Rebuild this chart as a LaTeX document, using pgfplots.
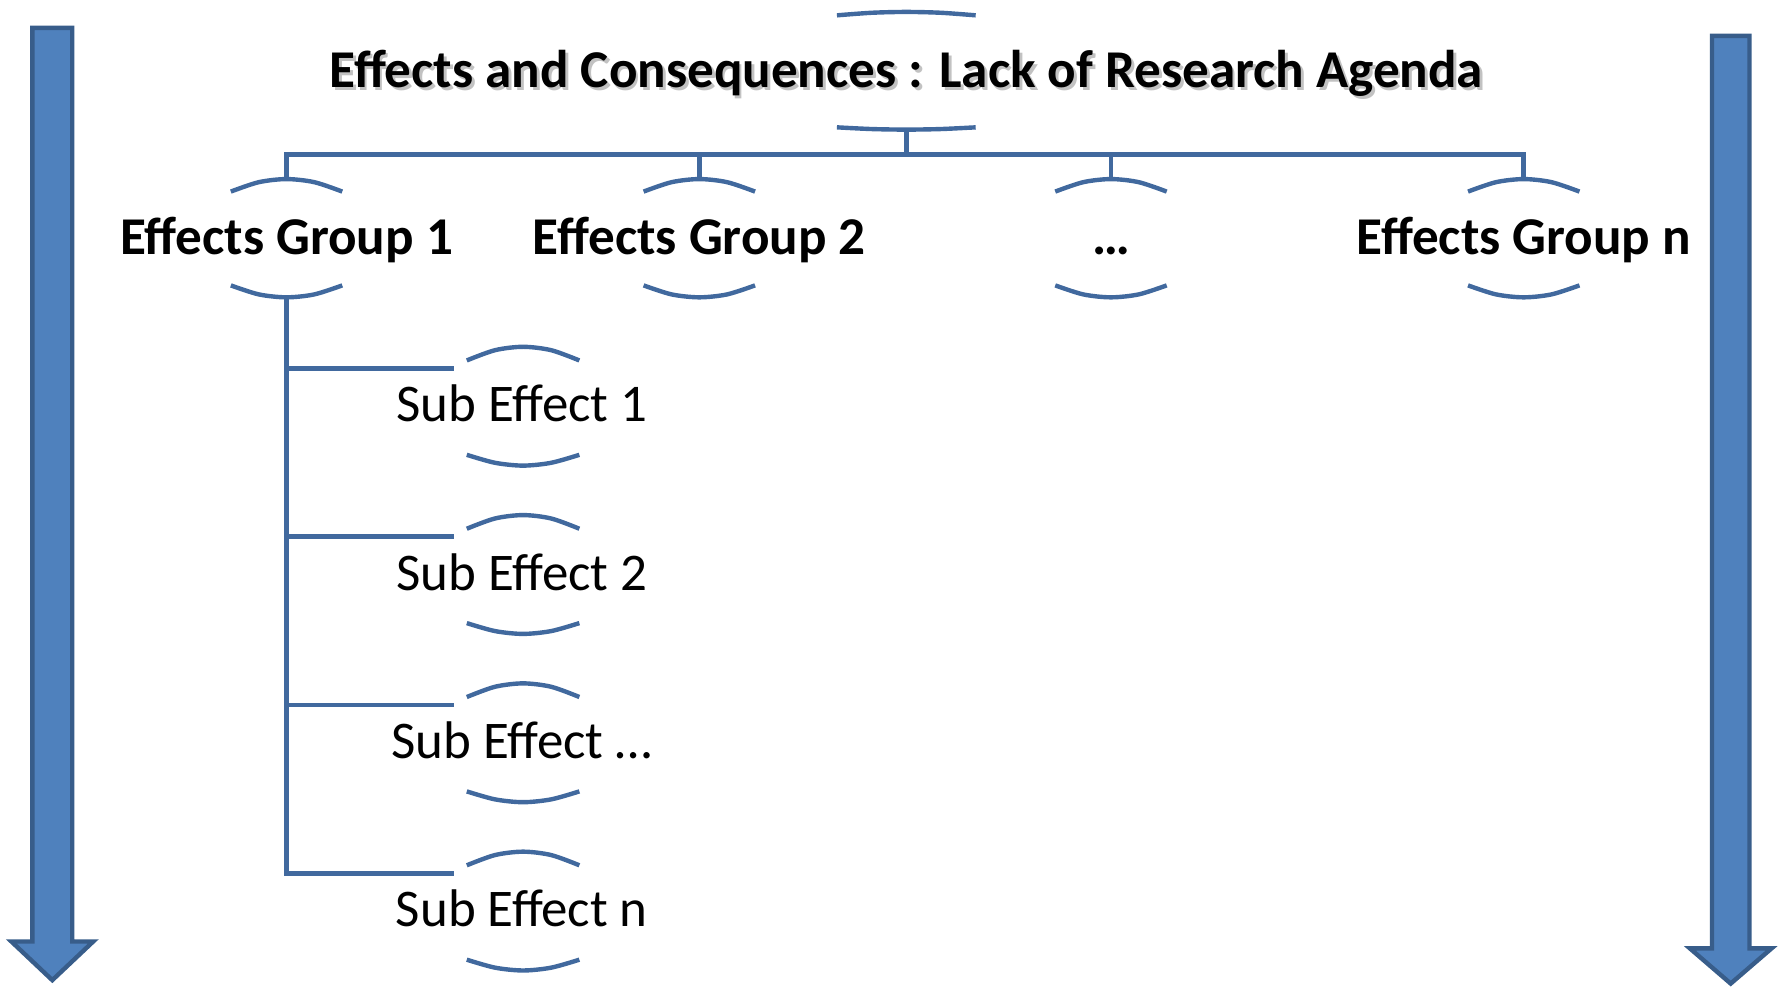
\documentclass[border=0pt]{standalone}
\usepackage{pgfplots}
\pgfplotsset{compat=1.18}
\usepackage{fontspec}
\setmainfont{Carlito}
\definecolor{linec}{RGB}{65,105,158}
\definecolor{arrfill}{RGB}{79,129,189}
\definecolor{arrdraw}{RGB}{56,93,138}
\begin{document}
\begin{tikzpicture}
\begin{axis}[hide axis, scale only axis, width=15.68cm, height=8.70cm,
  xmin=0, xmax=1568, ymin=0, ymax=870, y dir=reverse, clip=false]
\path (axis cs:0,0) rectangle (axis cs:1568,870);
% arrows
\addplot[fill=arrfill, draw=arrdraw, line width=1.1pt, line join=miter] coordinates {
 (28.5,24.5) (63.5,24.5) (63.5,828) (82,828) (46,862) (10,828) (28.5,828) (28.5,24.5)} -- cycle;
\addplot[fill=arrfill, draw=arrdraw, line width=1.1pt, line join=miter] coordinates {
 (1505.5,31.5) (1538.5,31.5) (1538.5,834) (1558,834) (1522,865) (1486,834) (1505.5,834) (1505.5,31.5)} -- cycle;
% connector lines
\addplot[linec, line width=1.2pt] coordinates {(797,114) (797,136)};
\addplot[linec, line width=1.2pt] coordinates {(252,158) (252,136) (1340,136) (1340,158)};
\addplot[linec, line width=1.2pt] coordinates {(615,136) (615,158)};
\addplot[linec, line width=1.2pt] coordinates {(977,136) (977,158)};
\addplot[linec, line width=1.2pt] coordinates {(252,261) (252,768) (399,768)};
\addplot[linec, line width=1.2pt] coordinates {(252,324) (399,324)};
\addplot[linec, line width=1.2pt] coordinates {(252,472) (399,472)};
\addplot[linec, line width=1.2pt] coordinates {(252,620) (399,620)};
% title arcs
\addplot[linec, line width=1.1pt, smooth] coordinates {(736,13.5) (766.5,11.25) (797,10.5) (827.5,11.25) (858,13.5)};
\addplot[linec, line width=1.1pt, smooth] coordinates {(736,112) (766.5,113.5) (797,114) (827.5,113.5) (858,112)};
% group arcs (top)
\addplot[linec, line width=1.1pt, smooth] coordinates {(203,168.5) (227.5,160.25) (252,157.5) (276.5,160.25) (301,168.5)};
\addplot[linec, line width=1.1pt, smooth] coordinates {(566,168.5) (590.5,160.25) (615,157.5) (639.5,160.25) (664,168.5)};
\addplot[linec, line width=1.1pt, smooth] coordinates {(928,168.5) (952.5,160.25) (977,157.5) (1001.5,160.25) (1026,168.5)};
\addplot[linec, line width=1.1pt, smooth] coordinates {(1291,168.5) (1315.5,160.25) (1340,157.5) (1364.5,160.25) (1389,168.5)};
% group arcs (bottom)
\addplot[linec, line width=1.1pt, smooth] coordinates {(203,251) (227.5,258.9) (252,261.5) (276.5,258.9) (301,251)};
\addplot[linec, line width=1.1pt, smooth] coordinates {(566,251) (590.5,258.9) (615,261.5) (639.5,258.9) (664,251)};
\addplot[linec, line width=1.1pt, smooth] coordinates {(928,251) (952.5,258.9) (977,261.5) (1001.5,258.9) (1026,251)};
\addplot[linec, line width=1.1pt, smooth] coordinates {(1291,251) (1315.5,258.9) (1340,261.5) (1364.5,258.9) (1389,251)};
% sub arcs (top)
\addplot[linec, line width=1.1pt, smooth] coordinates {(410.5,317) (435.25,308) (460,305) (484.75,308) (509.5,317)};
\addplot[linec, line width=1.1pt, smooth] coordinates {(410.5,465) (435.25,456) (460,453) (484.75,456) (509.5,465)};
\addplot[linec, line width=1.1pt, smooth] coordinates {(410.5,613) (435.25,604) (460,601) (484.75,604) (509.5,613)};
\addplot[linec, line width=1.1pt, smooth] coordinates {(410.5,761) (435.25,752) (460,749) (484.75,752) (509.5,761)};
% sub arcs (bottom)
\addplot[linec, line width=1.1pt, smooth] coordinates {(410.5,400) (435.25,407) (460,409.5) (484.75,407) (509.5,400)};
\addplot[linec, line width=1.1pt, smooth] coordinates {(410.5,548) (435.25,555) (460,557.5) (484.75,555) (509.5,548)};
\addplot[linec, line width=1.1pt, smooth] coordinates {(410.5,696) (435.25,703) (460,705.5) (484.75,703) (509.5,696)};
\addplot[linec, line width=1.1pt, smooth] coordinates {(410.5,844) (435.25,851) (460,853.5) (484.75,851) (509.5,844)};
% texts
\node[anchor=base, font=\fontsize{13.3}{15}\selectfont\bfseries, text=black!40, opacity=0.6] at (axis cs:799.5,79.5) {Effects and Consequences : Lack of Research Agenda};
\node[anchor=base, font=\fontsize{13.3}{15}\selectfont\bfseries] at (axis cs:797,77) {Effects and Consequences : Lack of Research Agenda};
\node[anchor=base, font=\fontsize{13.3}{15}\selectfont\bfseries] at (axis cs:252,224) {Effects Group 1};
\node[anchor=base, font=\fontsize{13.3}{15}\selectfont\bfseries] at (axis cs:615,224) {Effects Group 2};
\node[anchor=base, font=\fontsize{13.3}{15}\selectfont\bfseries] at (axis cs:977,224) {…};
\node[anchor=base, font=\fontsize{13.3}{15}\selectfont\bfseries] at (axis cs:1340,224) {Effects Group n};
\node[anchor=base, font=\fontsize{13.25}{15}\selectfont] at (axis cs:459,371) {Sub Effect 1};
\node[anchor=base, font=\fontsize{13.25}{15}\selectfont] at (axis cs:459,519) {Sub Effect 2};
\node[anchor=base, font=\fontsize{13.25}{15}\selectfont] at (axis cs:459,667) {Sub Effect …};
\node[anchor=base, font=\fontsize{13.25}{15}\selectfont] at (axis cs:459,815) {Sub Effect n};
\end{axis}
\end{tikzpicture}
\end{document}
